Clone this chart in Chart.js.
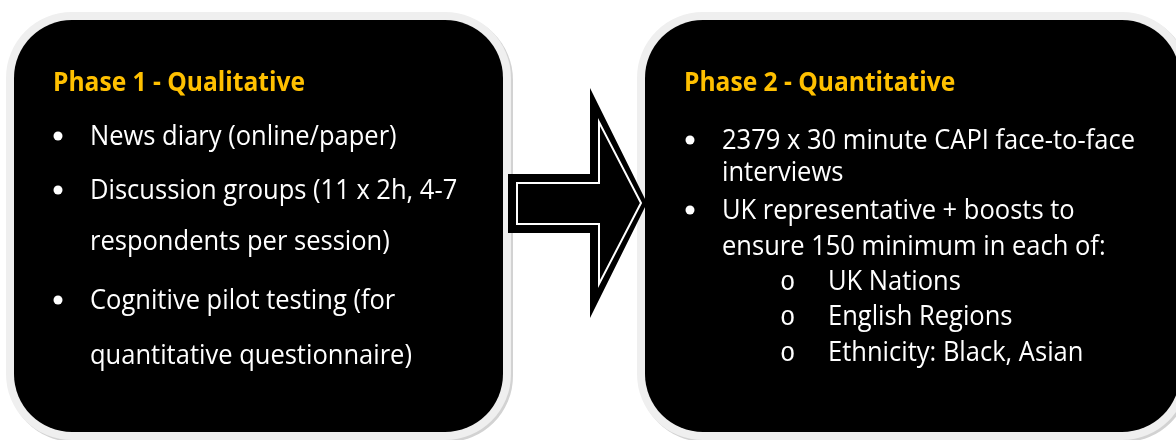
<!DOCTYPE html>
<html>
<head>
<meta charset="utf-8">
<script src="https://cdn.jsdelivr.net/npm/chart.js@4"></script>
<style>
  html, body { margin: 0; padding: 0; background: #ffffff; }
  #diagrama { display: block; }
</style>
</head>
<body>
<canvas id="diagrama" width="1176" height="440"></canvas>
<script>
// Textos do diagrama
const fase1Titulo = 'Phase 1 - Qualitative';
const fase1Itens = [
    ['News diary (online/paper)'],
    ['Discussion groups (11 x 2h, 4-7', 'respondents per session)'],
    ['Cognitive pilot testing (for', 'quantitative questionnaire)']
];
const fase2Titulo = 'Phase 2 - Quantitative';
const fase2Itens = [
    ['2379 x 30 minute CAPI face-to-face', 'interviews'],
    ['UK representative + boosts to', 'ensure 150 minimum in each of:']
];
const fase2SubItens = ['UK Nations', 'English Regions', 'Ethnicity: Black, Asian'];

const FONTE = '"Open Sans", "Noto Sans", sans-serif';
const APERTO = 0.945; // compressão horizontal para imitar Calibri

function caixa(ctx, px, x0, y0, x1, y1, r) {
    // sombra, borda clara e fundo preto
    ctx.fillStyle = '#d2d2d2';
    ctx.beginPath();
    ctx.roundRect(px.x(x0 - 8) + 2, px.y(y0 - 8) + 2, px.x(x1 + 8) - px.x(x0 - 8), px.y(y1 + 8) - px.y(y0 - 8), r + 8);
    ctx.fill();
    ctx.fillStyle = '#efefef';
    ctx.beginPath();
    ctx.roundRect(px.x(x0 - 8), px.y(y0 - 8), px.x(x1 + 8) - px.x(x0 - 8), px.y(y1 + 8) - px.y(y0 - 8), r + 8);
    ctx.fill();
    ctx.fillStyle = '#000000';
    ctx.beginPath();
    ctx.roundRect(px.x(x0), px.y(y0), px.x(x1) - px.x(x0), px.y(y1) - px.y(y0), r);
    ctx.fill();
}

function texto(ctx, str, x, y, tamanho, peso, cor, fonte) {
    ctx.save();
    ctx.font = peso + ' ' + tamanho + 'px ' + (fonte || FONTE);
    ctx.fillStyle = cor;
    ctx.textAlign = 'left';
    ctx.textBaseline = 'alphabetic';
    ctx.translate(x, y);
    ctx.scale(APERTO, 1);
    ctx.fillText(str, 0, 0);
    ctx.restore();
}

function bolinha(ctx, x, y) {
    ctx.fillStyle = '#ffffff';
    ctx.beginPath();
    ctx.arc(x, y, 4.5, 0, Math.PI * 2);
    ctx.fill();
}

function seta(ctx, px) {
    const externa = [[508, 174], [590, 174], [590, 88], [647, 203], [590, 318], [590, 233], [508, 233]];
    const interna = [[517, 183], [599, 183], [599, 122], [641, 203], [599, 284], [599, 224], [517, 224]];
    const caminho = (pts) => {
        ctx.beginPath();
        pts.forEach((p, i) => i ? ctx.lineTo(px.x(p[0]), px.y(p[1])) : ctx.moveTo(px.x(p[0]), px.y(p[1])));
        ctx.closePath();
    };
    ctx.fillStyle = '#000000';
    caminho(externa);
    ctx.fill();
    caminho(interna);
    ctx.strokeStyle = '#ffffff';
    ctx.lineWidth = 2;
    ctx.stroke();
}

const desenhoPlugin = {
    id: 'desenho',
    afterDraw(chart) {
        const ctx = chart.ctx;
        const px = {
            x: (v) => chart.scales.x.getPixelForValue(v),
            y: (v) => chart.scales.y.getPixelForValue(v)
        };
        ctx.save();
        caixa(ctx, px, 14, 20, 503, 432, 58);
        caixa(ctx, px, 645, 20, 1180, 432, 58);

        // Fase 1
        texto(ctx, fase1Titulo, px.x(53), px.y(91), 26, 'bold', '#ffc000');
        const linhas1 = [145, 199, 250, 309, 364];
        let k = 0;
        fase1Itens.forEach((item) => {
            item.forEach((linha, j) => {
                if (j === 0) bolinha(ctx, px.x(58), px.y(linhas1[k] - 9));
                texto(ctx, linha, px.x(90), px.y(linhas1[k]), 27, 'normal', '#ffffff');
                k++;
            });
        });

        // Fase 2
        texto(ctx, fase2Titulo, px.x(684), px.y(91), 26, 'bold', '#ffc000');
        const linhas2 = [149, 181, 219, 255];
        k = 0;
        fase2Itens.forEach((item) => {
            item.forEach((linha, j) => {
                if (j === 0) bolinha(ctx, px.x(690), px.y(linhas2[k] - 9));
                texto(ctx, linha, px.x(722), px.y(linhas2[k]), 27, 'normal', '#ffffff');
                k++;
            });
        });
        const linhasSub = [290, 325, 361];
        fase2SubItens.forEach((linha, i) => {
            texto(ctx, 'o', px.x(780), px.y(linhasSub[i]), 27, 'normal', '#ffffff', '"Liberation Mono", monospace');
            texto(ctx, linha, px.x(828), px.y(linhasSub[i]), 27, 'normal', '#ffffff');
        });

        seta(ctx, px);
        ctx.restore();
    }
};

const config = {
    type: 'scatter',
    data: { datasets: [{ data: [] }] },
    options: {
        responsive: false,
        animation: false,
        layout: { padding: 0 },
        plugins: { legend: { display: false }, tooltip: { enabled: false } },
        scales: {
            x: { type: 'linear', min: 0, max: 1176, display: false },
            y: { type: 'linear', min: 0, max: 440, reverse: true, display: false }
        }
    },
    plugins: [desenhoPlugin]
};

const ctx = document.getElementById('diagrama').getContext('2d');
new Chart(ctx, config);
</script>
</body>
</html>
